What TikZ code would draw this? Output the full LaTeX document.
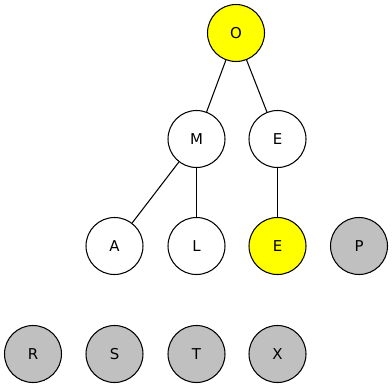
\documentclass[tikz,border=0pt]{standalone}
\usepackage{fontspec}
\setmainfont{DejaVu Sans}
\definecolor{TreeYellow}{RGB}{255,255,0}
\definecolor{TreeGray}{RGB}{192,192,192}
\tikzset{
  tree/node/.style={
    circle,
    draw=black,
    line width=0.6pt,
    fill=white,
    minimum size=1.14cm,
    inner sep=0pt,
    font=\fontsize{8.5}{10}\selectfont
  },
  tree/mark/.style={tree/node, fill=TreeYellow},
  tree/free/.style={tree/node, fill=TreeGray},
  tree/edge/.style={line width=0.6pt, draw=black}
}
\begin{document}
\begin{tikzpicture}[x=0.02cm,y=-0.02cm]
  \useasboundingbox (0,0) rectangle (392,389);
  % tree
  \node[tree/mark] (o) at (236,33) {O};
  \node[tree/node] (m) at (196.5,139) {M};
  \node[tree/node] (e) at (277.5,139) {E};
  \node[tree/node] (a) at (114.5,246) {A};
  \node[tree/node] (l) at (196.5,246) {L};
  \node[tree/mark] (e2) at (277.5,246) {E};
  % leftovers
  \node[tree/free] (p) at (359,246) {P};
  \node[tree/free] (r) at (33,354) {R};
  \node[tree/free] (s) at (114.5,354) {S};
  \node[tree/free] (t) at (196.5,354) {T};
  \node[tree/free] (x) at (277.5,354) {X};
  \draw[tree/edge] (o) -- (m);
  \draw[tree/edge] (o) -- (e);
  \draw[tree/edge] (m) -- (a);
  \draw[tree/edge] (m) -- (l);
  \draw[tree/edge] (e) -- (e2);
\end{tikzpicture}
\end{document}
